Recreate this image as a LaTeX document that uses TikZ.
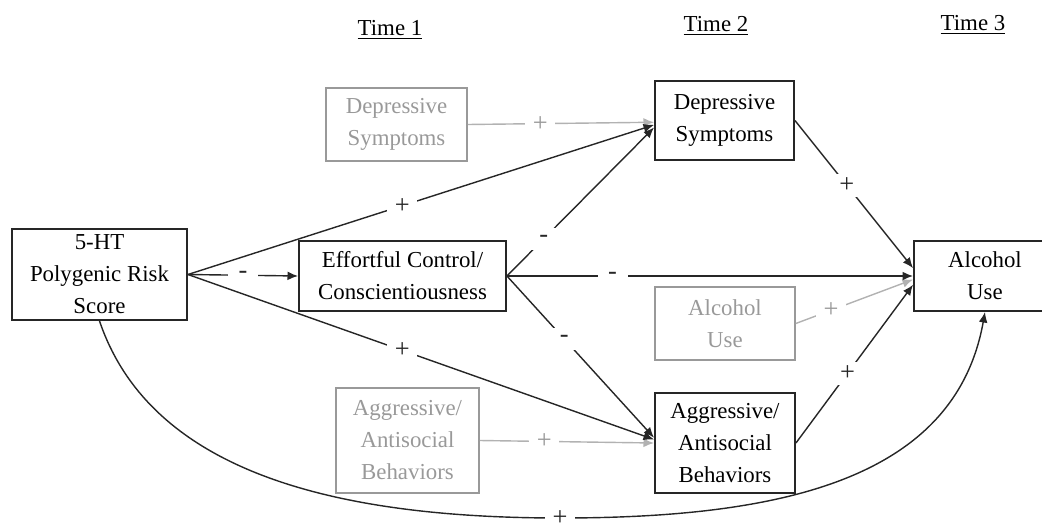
\documentclass[tikz,border=0pt]{standalone}
\usepackage{fontspec}
\setmainfont{Liberation Serif}
\usepackage{xcolor}
\usepackage{tikz}
\usetikzlibrary{calc, positioning, arrows.meta}

\begin{document}
\begin{tikzpicture}[>={Latex[length=6pt, width=5pt]}, x=0.02cm, y=-0.02cm,
    txt/.style={font=\fontsize{13}{18.2}\selectfont},
    box/.style={txt, draw=black!85, line width=1.1pt, align=center, inner sep=0pt},
    gbox/.style={txt, draw=gray!80, text=gray!80, line width=0.9pt, align=center, inner sep=0pt},
    link/.style={->, black!85, line width=0.8pt},
    glink/.style={->, gray!60, line width=0.8pt},
    sgn/.style={font=\fontsize{15}{18}\selectfont, fill=white, inner sep=0pt, minimum width=0.6cm, minimum height=0.45cm},
    gsgn/.style={sgn, text=gray!80}]
    \clip (0,0) rectangle (1042,531);

    % 1. Nhãn thời gian
    \node[txt] (t1) at (390,30) {\underline{Time 1}};
    \node[txt] (t2) at (716,26) {\underline{Time 2}};
    \node[txt] (t3) at (973,25) {\underline{Time 3}};

    % 2. Các ô chính
    \node[box, minimum width=3.5cm, minimum height=1.82cm] (prs) at (99.5,274.5) {5-HT\\Polygenic Risk\\Score};
    \node[box, minimum width=4.14cm, minimum height=1.4cm] (ec) at (402.5,276) {Effortful Control/\\Conscientiousness};
    \node[box, minimum width=2.78cm, minimum height=1.58cm] (dep) at (724.5,120.5) {Depressive\\Symptoms};
    \node[box, minimum width=2.8cm, minimum height=2cm] (agg) at (725,443) {Aggressive/\\Antisocial\\Behaviors};
    \node[box, minimum width=2.84cm, minimum height=1.4cm] (alc) at (985,276) {Alcohol\\Use};

    % Các ô màu xám
    \node[gbox, minimum width=2.82cm, minimum height=1.46cm] (gdep) at (396.5,124.5) {Depressive\\Symptoms};
    \node[gbox, minimum width=2.8cm, minimum height=1.46cm] (galc) at (725,323.5) {Alcohol\\Use};
    \node[gbox, minimum width=2.86cm, minimum height=2.1cm] (gagg) at (407.5,440.5) {Aggressive/\\Antisocial\\Behaviors};

    % 3. Mũi tên xám
    \draw[glink] (gdep.east) -- node[gsgn, pos=0.39] {+} ([yshift=-1pt]dep.west);
    \draw[glink] (gagg.east) -- node[gsgn, pos=0.37] {+} (agg.west);
    \draw[glink] (galc.east) -- node[gsgn, pos=0.3] {+} ([yshift=-2pt]alc.west);

    % 4. Mũi tên đen
    \draw[link] (prs.east) -- node[sgn] {-} (ec.west);
    \draw[link] (prs.east) -- node[sgn, pos=0.46] {+} ([yshift=-2.5pt]dep.west);
    \draw[link] (prs.east) -- node[sgn, pos=0.46] {+} ([yshift=2pt]agg.west);
    \draw[link] (ec.east) -- node[sgn, pos=0.25] {-} ([yshift=-4pt]dep.west);
    \draw[link] (ec.east) -- node[sgn, pos=0.39] {-} ([yshift=3pt]agg.west);
    \draw[link] (ec.east) -- node[sgn, pos=0.26] {-} (alc.west);
    \draw[link] (dep.east) -- node[sgn, pos=0.44] {+} ([yshift=4.5pt]alc.west);
    \draw[link] (agg.east) -- node[sgn, pos=0.44] {+} ([yshift=-5pt]alc.west);

    % Đường cong dưới cùng
    \coordinate (low) at (560,518);
    \draw[link] (prs.south) .. controls (150,470) and (330,518) .. (low)
        node[sgn, minimum height=0.3cm] {+}
        .. controls (780,518) and (955,480) .. (alc.south);
\end{tikzpicture}
\end{document}
